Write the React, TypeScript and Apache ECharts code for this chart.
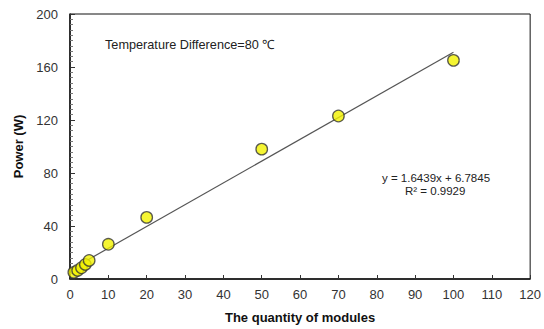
import React, { useEffect, useRef } from "react";
import * as echarts from "echarts";

const modules = [1, 2, 3, 4, 5, 10, 20, 50, 70, 100];
const power = [5, 6.5, 8.5, 11, 14, 26.2, 46.5, 98, 123, 165];
const trendX = [0, 100];
const trendY = [6.7845, 171.1745];
const xTicks = { min: 0, max: 120, interval: 10 };
const yTicks = { min: 0, max: 200, interval: 40 };
const note = "Temperature Difference=80 ℃";
const eqText = "y = 1.6439x + 6.7845";
const r2Text = "R² = 0.9929";

export default function App() {
  const ref = useRef<HTMLDivElement>(null);
  useEffect(() => {
    if (!ref.current) return;
    const chart = echarts.init(ref.current, null, { renderer: "svg" });
    const font = "'Liberation Sans', Arial, sans-serif";
    chart.setOption({
      animation: false,
      backgroundColor: "#fff",
      grid: { left: 70, right: 13, top: 14, bottom: 50, show: true, borderColor: "#111", borderWidth: 1 },
      xAxis: {
        type: "value",
        min: xTicks.min,
        max: xTicks.max,
        interval: xTicks.interval,
        name: "The quantity of modules",
        nameLocation: "middle",
        nameGap: 32,
        nameTextStyle: { fontFamily: font, fontWeight: "bold", fontSize: 13, color: "#111" },
        axisLine: { lineStyle: { color: "#111", width: 1.5 } },
        axisTick: { inside: true, length: 4, lineStyle: { color: "#333" } },
        axisLabel: { fontFamily: font, fontSize: 13, color: "#333", margin: 9 },
        splitLine: { show: false },
      },
      yAxis: {
        type: "value",
        min: yTicks.min,
        max: yTicks.max,
        interval: yTicks.interval,
        name: "Power (W)",
        nameLocation: "middle",
        nameGap: 42,
        nameTextStyle: { fontFamily: font, fontWeight: "bold", fontSize: 13, color: "#111" },
        axisLine: { lineStyle: { color: "#111", width: 1.5 } },
        axisTick: { inside: true, length: 5, lineStyle: { color: "#333" } },
        minorTick: { show: true, splitNumber: 10, length: 3, lineStyle: { color: "#777" } },
        axisLabel: { fontFamily: font, fontSize: 13, color: "#333", margin: 12 },
        splitLine: { show: false },
      },
      series: [
        {
          type: "line",
          data: trendX.map((x, i) => [x, trendY[i]]),
          symbol: "none",
          lineStyle: { color: "#555", width: 1.2 },
          z: 1,
        },
        {
          type: "scatter",
          data: modules.map((x, i) => [x, power[i]]),
          symbolSize: 11.5,
          itemStyle: { color: "#f2f200", borderColor: "#333", borderWidth: 1.3 },
          z: 3,
        },
      ],
      graphic: [
        { type: "text", left: 105, top: 38, style: { text: note, fontFamily: font, fontSize: 12.7, fill: "#222" } },
        { type: "text", left: 382, top: 172, style: { text: eqText, fontFamily: font, fontSize: 11.5, fill: "#222" } },
        { type: "text", left: 405, top: 185, style: { text: r2Text, fontFamily: font, fontSize: 11.5, fill: "#222" } },
      ],
    });
    return () => chart.dispose();
  }, []);
  return <div ref={ref} style={{ width: 544, height: 329, position: "fixed", left: 0, top: 0 }} />;
}
